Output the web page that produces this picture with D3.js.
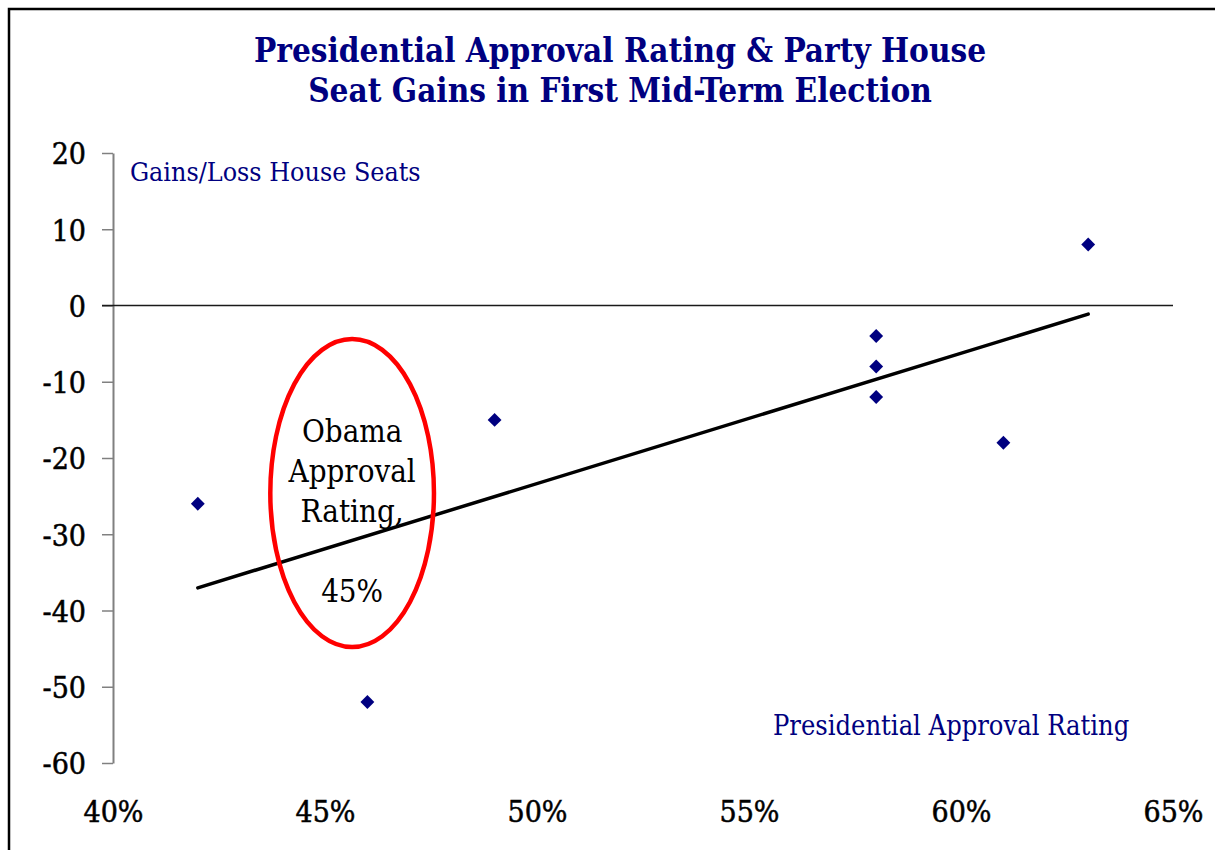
<!DOCTYPE html>
<html>
<head>
<meta charset="utf-8">
<script src="https://cdn.jsdelivr.net/npm/d3@7"></script>
<style>
  html, body { margin: 0; padding: 0; background: #fff; }
  svg { display: block; }
  .num { font-family: "DejaVu Serif Condensed", "DejaVu Serif", serif; font-stretch: condensed; }
</style>
</head>
<body>
<svg id="chart" width="1215" height="850"></svg>
<script>
// Presidential approval (share) vs. party House seat change in the first mid-term
const approval = [0.42, 0.46, 0.49, 0.58, 0.58, 0.58, 0.61, 0.63];
const seatChange = [-26, -52, -15, -4, -8, -12, -18, 8];

const yTicks = [-60, -50, -40, -30, -20, -10, 0, 10, 20];
const xTicks = [0.40, 0.45, 0.50, 0.55, 0.60, 0.65];

const titleLines = ["Presidential Approval Rating & Party House",
                    "Seat Gains in First Mid-Term Election"];
const yLabel = "Gains/Loss House Seats";
const xLabel = "Presidential Approval Rating";

// Callout around the current approval level
const calloutCenter = [0.4564, -24.6];
const calloutRadius = [0.0193, 20.2];
const calloutLines = ["Obama", "Approval", "Rating,", "", "45%"];

const navy = "#000080";
const svg = d3.select("#chart");

// Outer frame
svg.append("rect")
  .attr("x", 9).attr("y", 9).attr("width", 1400).attr("height", 1000)
  .attr("fill", "none").attr("stroke", "#000").attr("stroke-width", 2.5);

const x = d3.scaleLinear().domain([0.40, 0.65]).range([113, 1173]);
const y = d3.scaleLinear().domain([-60, 20]).range([763, 153]);

// Title
svg.append("text")
  .attr("x", 620).attr("y", 62)
  .attr("text-anchor", "middle")
  .attr("class", "num")
  .attr("font-weight", "bold")
  .attr("font-size", 33)
  .attr("fill", navy)
  .selectAll("tspan").data(titleLines).join("tspan")
  .attr("x", 620)
  .attr("dy", (d, i) => i === 0 ? 0 : 40)
  .text(d => d);

// Y axis
const yAxis = svg.append("g")
  .attr("transform", `translate(${x(0.40)},0)`)
  .call(d3.axisLeft(y).tickValues(yTicks).tickSize(11).tickSizeOuter(0).tickPadding(16).tickFormat(d3.format("d")));
yAxis.select(".domain").attr("stroke", "#808080").attr("stroke-width", 2);
yAxis.selectAll(".tick line").attr("stroke", "#808080").attr("stroke-width", 1.5);
yAxis.selectAll(".tick text")
  .attr("class", "num")
  .attr("font-size", 30)
  .attr("fill", "#000")
  .attr("stroke", "#000").attr("stroke-width", 0.5)
  .attr("dy", "0.36em")
  .text(d => d < 0 ? "-" + Math.abs(d) : d);

// X axis labels (below the plot)
const xAxis = svg.append("g")
  .attr("transform", `translate(0,${y(-60)})`)
  .call(d3.axisBottom(x).tickValues(xTicks).tickSize(0).tickPadding(0).tickFormat(d3.format(".0%")));
xAxis.select(".domain").remove();
xAxis.selectAll(".tick text")
  .attr("class", "num")
  .attr("font-size", 30)
  .attr("fill", "#000")
  .attr("stroke", "#000").attr("stroke-width", 0.5)
  .attr("dy", 0)
  .attr("y", 59);

// Zero line
svg.append("line")
  .attr("x1", x(0.40) - 11).attr("x2", x(0.65))
  .attr("y1", y(0)).attr("y2", y(0))
  .attr("stroke", "#1a1a1a").attr("stroke-width", 1.6);

// Axis captions
svg.append("text")
  .attr("x", 130).attr("y", 181)
  .attr("class", "num")
  .attr("font-size", 26.6)
  .attr("fill", navy)
  .text(yLabel);

svg.append("text")
  .attr("x", 773).attr("y", 735)
  .attr("class", "num")
  .attr("font-size", 27)
  .attr("fill", navy)
  .text(xLabel);

// Least-squares trend line
const n = approval.length;
const mx = d3.mean(approval), my = d3.mean(seatChange);
let sxy = 0, sxx = 0;
for (let i = 0; i < n; i++) {
  sxy += (approval[i] - mx) * (seatChange[i] - my);
  sxx += (approval[i] - mx) ** 2;
}
const slope = sxy / sxx;
const intercept = my - slope * mx;
const [xMin, xMax] = d3.extent(approval);
svg.append("line")
  .attr("x1", x(xMin)).attr("y1", y(intercept + slope * xMin))
  .attr("x2", x(xMax)).attr("y2", y(intercept + slope * xMax))
  .attr("stroke", "#000").attr("stroke-width", 3.5).attr("stroke-linecap", "round");

// Data points
const pts = approval.map((a, i) => ({ a, s: seatChange[i] }));
svg.append("g").selectAll("path").data(pts).join("path")
  .attr("d", d3.symbol(d3.symbolSquare, 96))
  .attr("transform", d => `translate(${x(d.a)},${y(d.s)}) rotate(45)`)
  .attr("fill", navy);

// Callout ellipse and text
const cx = x(calloutCenter[0]), cy = y(calloutCenter[1]);
svg.append("ellipse")
  .attr("cx", cx).attr("cy", cy)
  .attr("rx", x(calloutCenter[0] + calloutRadius[0]) - cx)
  .attr("ry", y(calloutCenter[1] - calloutRadius[1]) - cy)
  .attr("fill", "none").attr("stroke", "#ff0000").attr("stroke-width", 4.5);

svg.append("text")
  .attr("class", "num")
  .attr("font-size", 31)
  .attr("fill", "#000")
  .attr("text-anchor", "middle")
  .selectAll("tspan").data(calloutLines).join("tspan")
  .attr("x", cx)
  .attr("y", (d, i) => cy - 51 + i * 40)
  .text(d => d);
</script>
</body>
</html>
